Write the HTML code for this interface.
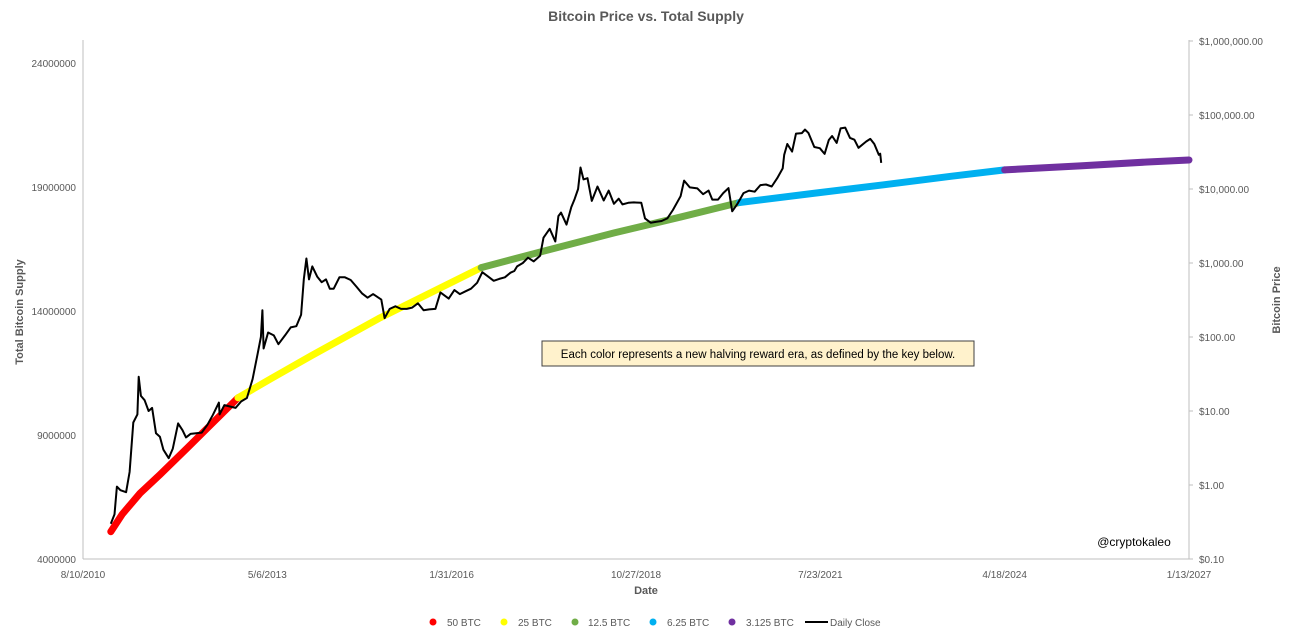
<!DOCTYPE html>
<html><head><meta charset="utf-8">
<style>
body{margin:0;background:#fff;font-family:"Liberation Sans",sans-serif;}
svg text{font-family:"Liberation Sans",sans-serif;fill:#595959;}
</style></head>
<body>
<svg id="chart" width="1292" height="633" viewBox="0 0 1292 633" xmlns="http://www.w3.org/2000/svg">
<text x="646" y="21" text-anchor="middle" font-size="14" font-weight="bold">Bitcoin Price vs. Total Supply</text>
<g id="axes"></g>
<g id="supply"></g>
<g id="price"></g>
<g>
<rect x="542" y="341" width="432" height="25" fill="#fff2cc" stroke="#404040" stroke-width="1"/>
<text x="758" y="358" text-anchor="middle" font-size="11.5" style="fill:#000">Each color represents a new halving reward era, as defined by the key below.</text>
</g>
<text x="1134" y="546" text-anchor="middle" font-size="12" style="fill:#000">@cryptokaleo</text>
<text x="646" y="594" text-anchor="middle" font-size="11" font-weight="bold">Date</text>
<text transform="translate(23,312) rotate(-90)" text-anchor="middle" font-size="11" font-weight="bold">Total Bitcoin Supply</text>
<text transform="translate(1280,300) rotate(-90)" text-anchor="middle" font-size="11" font-weight="bold">Bitcoin Price</text>
<g font-size="10">
<g><circle cx="433" cy="622" r="3.5" fill="#ff0000"/><text x="447" y="626">50 BTC</text></g>
<g><circle cx="504" cy="622" r="3.5" fill="#ffff00"/><text x="518" y="626">25 BTC</text></g>
<g><circle cx="575" cy="622" r="3.5" fill="#70ad47"/><text x="588" y="626">12.5 BTC</text></g>
<g><circle cx="653" cy="622" r="3.5" fill="#00b0f0"/><text x="667" y="626">6.25 BTC</text></g>
<g><circle cx="732" cy="622" r="3.5" fill="#7030a0"/><text x="746" y="626">3.125 BTC</text></g>
<g><line x1="805" y1="622" x2="828" y2="622" stroke="#000" stroke-width="2"/><text x="830" y="626">Daily Close</text></g>
</g>
</svg>
<script>
const xTickLabels=["8/10/2010","5/6/2013","1/31/2016","10/27/2018","7/23/2021","4/18/2024","1/13/2027"];
const leftTicks=[4000000,9000000,14000000,19000000,24000000];
const rightTicks=[0.1,1,10,100,1000,10000,100000,1000000];
const eraNames=["50","25","12.5","6.25","3.125"];
const eraColors=["#ff0000","#ffff00","#70ad47","#00b0f0","#7030a0"];
const eraDates=[
 ["2011-01-08","2011-03-10","2011-06-15","2011-10-01","2012-03-01","2012-11-28"],
 ["2012-11-28","2013-06-01","2014-01-01","2015-01-01","2016-07-09"],
 ["2016-07-09","2017-07-01","2018-07-01","2019-07-01","2020-05-11"],
 ["2020-05-11","2021-07-01","2022-07-01","2023-07-01","2024-04-18"],
 ["2024-04-18","2025-06-01","2026-06-01","2027-01-13"]];
const eraSupply=[
 [5100000,5800000,6650000,7400000,8500000,10500000],
 [10500000,11300000,12200000,13700000,15750000],
 [15750000,16450000,17150000,17800000,18375000],
 [18375000,18760000,19090000,19430000,19687500],
 [19687500,19850000,20010000,20090000]];
const priceDates=["2011-01-08","2011-01-28","2011-02-10","2011-03-01","2011-04-01","2011-04-20","2011-05-10","2011-06-01","2011-06-08","2011-06-20","2011-07-10","2011-08-01","2011-08-20","2011-09-10","2011-10-01","2011-10-20","2011-11-18","2011-12-10","2012-01-08","2012-02-01","2012-02-20","2012-03-15","2012-04-15","2012-05-15","2012-06-15","2012-07-15","2012-08-16","2012-08-20","2012-09-15","2012-10-15","2012-11-15","2012-12-15","2013-01-15","2013-02-15","2013-03-15","2013-04-01","2013-04-09","2013-04-16","2013-05-10","2013-06-10","2013-07-05","2013-08-10","2013-09-10","2013-10-10","2013-11-05","2013-11-20","2013-12-04","2013-12-18","2014-01-05","2014-02-01","2014-02-25","2014-03-20","2014-04-10","2014-05-01","2014-06-01","2014-07-01","2014-08-01","2014-09-01","2014-10-01","2014-11-01","2014-12-01","2015-01-14","2015-02-01","2015-03-01","2015-04-01","2015-05-01","2015-06-01","2015-07-01","2015-08-01","2015-09-01","2015-10-01","2015-11-04","2015-12-01","2016-01-15","2016-02-15","2016-03-15","2016-04-15","2016-05-15","2016-06-17","2016-07-15","2016-08-15","2016-09-15","2016-10-15","2016-11-15","2016-12-15","2017-01-05","2017-01-20","2017-02-20","2017-03-20","2017-04-20","2017-05-25","2017-06-12","2017-07-16","2017-08-15","2017-09-01","2017-09-15","2017-10-15","2017-11-10","2017-11-28","2017-12-17","2017-12-30","2018-01-15","2018-02-06","2018-03-01","2018-04-01","2018-05-05","2018-06-01","2018-06-29","2018-07-25","2018-08-15","2018-09-15","2018-10-15","2018-11-25","2018-12-15","2019-01-15","2019-02-15","2019-03-15","2019-04-15","2019-05-15","2019-06-26","2019-07-15","2019-08-15","2019-09-25","2019-10-26","2019-11-25","2019-12-15","2020-01-15","2020-02-12","2020-03-12","2020-04-01","2020-05-01","2020-06-01","2020-07-01","2020-08-01","2020-09-01","2020-10-01","2020-11-01","2020-12-01","2020-12-31","2021-01-08","2021-01-25","2021-02-20","2021-03-13","2021-04-14","2021-05-01","2021-05-20","2021-06-20","2021-07-20","2021-08-15","2021-09-07","2021-09-25","2021-10-20","2021-11-10","2021-12-05","2021-12-31","2022-01-24","2022-02-15","2022-03-29","2022-04-20","2022-05-12","2022-06-05","2022-06-13","2022-06-18"];
const priceValues=[0.3,0.4,0.95,0.85,0.8,1.5,7,9,29,16,14,10,11,5,4.5,3,2.3,3.1,6.8,5.5,4.4,4.9,5,5.1,6.5,8.9,13,9,12,11.5,11,13.5,15,27,60,100,230,70,115,105,80,105,135,140,200,600,1150,600,900,650,550,600,450,450,640,640,590,480,390,340,380,320,180,240,260,240,240,250,285,230,236,240,400,330,430,380,415,450,540,750,660,575,610,640,740,780,900,1000,1180,1050,1250,2200,2900,1950,4300,4800,3300,5700,7300,10000,19500,13500,14000,6900,10800,7000,9500,6300,7400,6200,6500,6600,6500,4000,3500,3600,3700,4000,5200,8000,13000,10500,10200,8500,9500,7200,7200,8800,10300,5000,6400,8800,9500,9200,11300,11500,10800,14000,19000,29000,40500,32000,56000,57000,63500,57000,37000,35600,29800,46000,52000,42000,66000,67500,49000,46300,36000,43900,47500,40500,29000,30000,22500,20000];
const X0=83,X1=1189,Y0=559,YT=40;
const t0=Date.UTC(2010,7,10),t1=Date.UTC(2027,0,13);
function d(s){const p=s.split('-');return Date.UTC(+p[0],+p[1]-1,+p[2]);}
function xScale(t){return X0+(t-t0)/(t1-t0)*(X1-X0);}
function ySupply(v){return Y0-(v-4000000)/5000000*124;}
function yPrice(v){return Y0-(Math.log10(v)+1)*74;}
const NS="http://www.w3.org/2000/svg";
function mk(tag,attrs,parent){const e=document.createElementNS(NS,tag);for(const k in attrs)e.setAttribute(k,attrs[k]);parent.appendChild(e);return e;}
const axes=document.getElementById('axes');
const la=mk('line',{x1:X0,y1:YT,x2:X0,y2:Y0,stroke:'#bfbfbf'},axes);


const ba=mk('line',{x1:X0,y1:Y0,x2:X1,y2:Y0,stroke:'#bfbfbf'},axes);


const ra=mk('line',{x1:X1,y1:YT,x2:X1,y2:Y0,stroke:'#bfbfbf'},axes);


leftTicks.forEach(v=>{const y=ySupply(v);
 const t=mk('text',{x:X0-7,y:y+4,'text-anchor':'end','font-size':'10'},axes);t.textContent=v;
 
 });
rightTicks.forEach(v=>{const y=yPrice(v);
 mk('line',{x1:X1,y1:y,x2:X1+4,y2:y,stroke:'#bfbfbf'},axes);
 const t=mk('text',{x:X1+10,y:y+4,'font-size':'10'},axes);
 t.textContent='$'+v.toLocaleString('en-US',{minimumFractionDigits:2,maximumFractionDigits:2});
 
 });
xTickLabels.forEach(s=>{
 const p=s.split('/');const tx=xScale(Date.UTC(+p[2],+p[0]-1,+p[1]));
 const t=mk('text',{x:tx,y:578,'text-anchor':'middle','font-size':'10'},axes);t.textContent=s;
 
 });
const sg=document.getElementById('supply');
eraDates.forEach((ds,i)=>{
 const pts=ds.map((s,j)=>xScale(d(s)).toFixed(1)+','+ySupply(eraSupply[i][j]).toFixed(1)).join(' ');
 const pl=mk('polyline',{points:pts,fill:'none',stroke:eraColors[i],'stroke-width':7,'stroke-linecap':'round','stroke-linejoin':'round'},sg);
 
 });
const pg=document.getElementById('price');
const pp=priceDates.map((s,i)=>xScale(d(s)).toFixed(1)+','+yPrice(priceValues[i]).toFixed(1)).join(' ');
const pl=mk('polyline',{points:pp,fill:'none',stroke:'#000','stroke-width':2,'stroke-linejoin':'round'},pg);


</script>
</body></html>
